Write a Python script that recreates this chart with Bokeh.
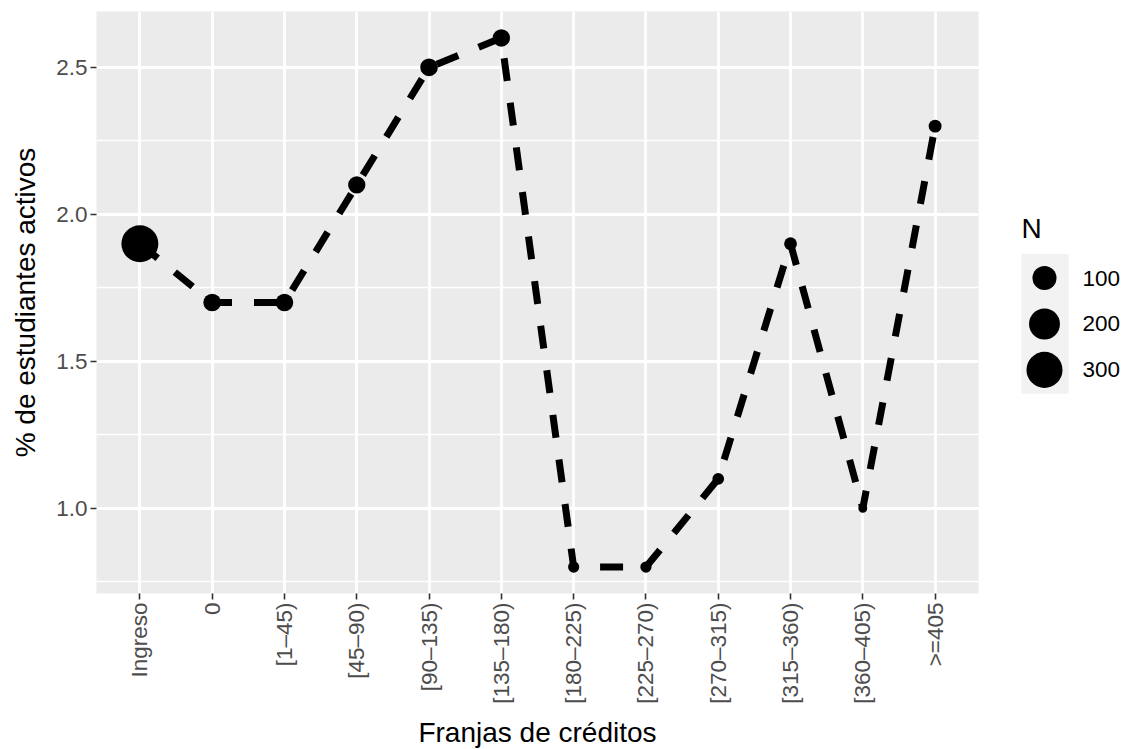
import math
import numpy as np
from bokeh.plotting import figure
from bokeh.models import Range1d, FixedTicker, ColumnDataSource
from bokeh.layouts import row
from bokeh.core.properties import value
from bokeh.embed import file_html
from bokeh.resources import INLINE

# ---- data ----
categories = ["Ingreso", "0", "[1–45)", "[45–90)", "[90–135)", "[135–180)",
              "[180–225)", "[225–270)", "[270–315)", "[315–360)", "[360–405)", ">=405"]
pct_activos = [1.9, 1.7, 1.7, 2.1, 2.5, 2.6, 0.8, 0.8, 1.1, 1.9, 1.0, 2.3]
n_students = [320, 40, 39, 37, 40, 38, 12, 12, 13, 16, 10, 16]
y_ticks = [1.0, 1.5, 2.0, 2.5]
y_minor = [0.75, 1.25, 1.75, 2.25]
size_breaks = [100, 200, 300]

FONT = "Liberation Sans"
nmin, nmax = min(n_students), max(n_students)

def n_to_px(n):
    t = (np.asarray(n, dtype=float) - nmin) / (nmax - nmin)
    s = 1 + 5 * np.sqrt(np.clip(t, 0, None))
    return 5.6 * (s + 0.6)

xs = list(range(len(categories)))
src = ColumnDataSource(dict(x=xs, y=pct_activos, n=n_students, sz=n_to_px(n_students)))

FRAME_TOP, FRAME_H = 11, 582

p = figure(frame_width=882, frame_height=FRAME_H,
           x_range=Range1d(-0.6, len(categories) - 1 + 0.6),
           y_range=Range1d(0.71, 2.69),
           output_backend="svg", toolbar_location=None,
           min_border_left=96, min_border_top=FRAME_TOP, min_border_right=12, min_border_bottom=156,
           background_fill_color="#EBEBEB", border_fill_color="white",
           outline_line_color=None)

p.line("x", "y", source=src, line_color="black", line_width=7, line_dash="23 22")
p.scatter("x", "y", source=src, size="sz", fill_color="black", line_color=None)

# axes
p.xaxis.ticker = FixedTicker(ticks=xs)
p.xaxis.major_label_overrides = {i: c for i, c in enumerate(categories)}
p.xaxis.major_label_orientation = math.pi / 2
p.yaxis.ticker = FixedTicker(ticks=y_ticks, minor_ticks=y_minor)
p.yaxis.major_label_overrides = {t: f"{t:.1f}" for t in y_ticks}

for ax in (p.xaxis[0], p.yaxis[0]):
    ax.axis_line_color = None
    ax.major_tick_line_color = "#333333"
    ax.major_tick_line_width = 1.6
    ax.major_tick_out = 6
    ax.major_tick_in = 0
    ax.minor_tick_line_color = None
    ax.major_label_text_font = FONT
    ax.major_label_text_font_size = "22.5px"
    ax.major_label_text_color = "#4D4D4D"
    ax.major_label_standoff = 3
    ax.axis_label_text_font = FONT
    ax.axis_label_text_font_size = "28px"
    ax.axis_label_text_font_style = "normal"
    ax.axis_label_text_color = "black"

p.xaxis.axis_label = "Franjas de créditos"
p.yaxis.axis_label = "% de estudiantes activos"
p.xaxis.axis_label_standoff = 10
p.yaxis.axis_label_standoff = 12

p.xgrid.grid_line_color = "white"
p.xgrid.grid_line_width = 2.8
p.ygrid.grid_line_color = "white"
p.ygrid.grid_line_width = 2.8
p.ygrid.minor_grid_line_color = "white"
p.ygrid.minor_grid_line_width = 1.4

# ---- legend (separate panel; its frame is aligned with the main frame) ----
leg = figure(width=136, height=749, x_range=Range1d(990, 1126),
             y_range=Range1d(FRAME_TOP + FRAME_H, FRAME_TOP),
             output_backend="svg", toolbar_location=None,
             min_border=0, min_border_left=0, min_border_right=0,
             min_border_top=0, min_border_bottom=0,
             background_fill_color="white", border_fill_color="white",
             outline_line_color=None)
leg.axis.visible = False
leg.grid.visible = False

key_y = [278, 324, 370]
leg.quad(left=1021, right=1068, top=254, bottom=394, fill_color="#F2F2F2", line_color=None)
leg.scatter(x=[1044] * 3, y=key_y, size=n_to_px(size_breaks), fill_color="black", line_color=None)
leg.text(x=[1082] * 3, y=key_y, text=[str(b) for b in size_breaks],
         text_font=value(FONT), text_font_size="22.5px", text_color="black",
         text_baseline="middle", text_align="left")
leg.text(x=[1021], y=[228], text=["N"], text_font=value(FONT), text_font_size="28px",
         text_color="black", text_baseline="middle", text_align="left")

layout = row(p, leg, spacing=0)
open("out.html", "w").write(file_html(layout, INLINE))
